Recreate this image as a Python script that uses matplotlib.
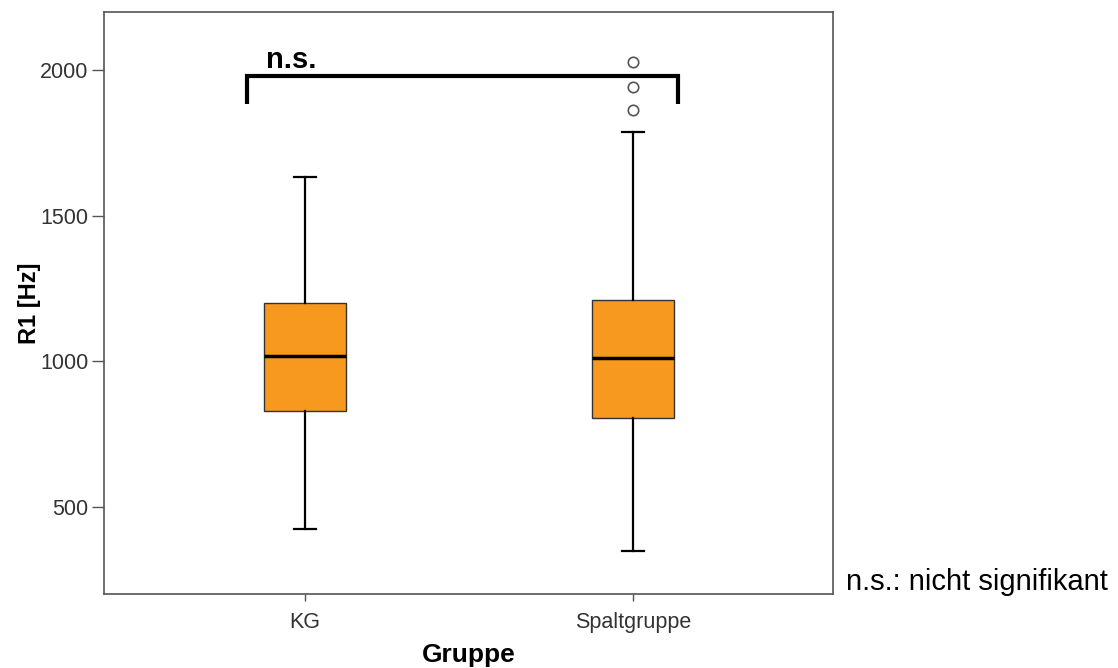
import matplotlib
matplotlib.use("Agg")
import matplotlib.pyplot as plt

plt.rcParams['font.family'] = ['Liberation Sans', 'DejaVu Sans']

# Box statistics (Hz)
groups = ["KG", "Spaltgruppe"]
whisker_low = [425, 350]
q1 = [829, 805]
median = [1017, 1010]
q3 = [1202, 1212]
whisker_high = [1634, 1788]
outliers = [[], [1863, 1942, 2027]]

yticks = [500, 1000, 1500, 2000]
bracket_y = 1979
bracket_drop = 95

ORANGE = "#F7991F"

stats = []
for i, g in enumerate(groups):
    stats.append({
        "label": g,
        "whislo": whisker_low[i],
        "q1": q1[i],
        "med": median[i],
        "q3": q3[i],
        "whishi": whisker_high[i],
        "fliers": outliers[i],
    })

positions = [1, 2]

fig = plt.figure(figsize=(11.18, 6.68), dpi=100)
ax = fig.add_axes([0.093, 0.111, 0.652, 0.871])

ax.bxp(stats, positions=positions, widths=0.25, patch_artist=True,
       boxprops=dict(facecolor=ORANGE, edgecolor="#333333", linewidth=1.0),
       medianprops=dict(color="black", linewidth=2.5),
       whiskerprops=dict(color="black", linewidth=1.6),
       capprops=dict(color="black", linewidth=1.6),
       capwidths=0.065,
       flierprops=dict(marker="o", markersize=7.5, markerfacecolor="white",
                       markeredgecolor="#555555", markeredgewidth=1.2))

ax.set_xlim(0.387, 2.609)
ax.set_ylim(202, 2199)
ax.set_yticks(yticks)
ax.set_yticklabels([str(t) for t in yticks])
ax.set_xticks(positions)
ax.set_xticklabels(groups)

ax.tick_params(axis="y", direction="out", length=9, width=1, colors="#555555",
               labelcolor="#333333", labelsize=15.5, pad=2)
ax.tick_params(axis="x", direction="out", length=5, width=1, colors="#555555",
               labelcolor="#333333", labelsize=15.5, pad=8)
for s in ax.spines.values():
    s.set_color("#555555")
    s.set_linewidth(1.2)

ax.set_xlabel("Gruppe", fontsize=19, fontweight="bold", labelpad=7)
ax.set_ylabel("R1 [Hz]", fontsize=17, fontweight="bold", labelpad=-0.5)

# significance bracket
xl = positions[0] - 0.177
xr = positions[1] + 0.137
ax.plot([xl, xl, xr, xr],
        [bracket_y - bracket_drop, bracket_y, bracket_y, bracket_y - bracket_drop],
        color="black", linewidth=3, solid_capstyle="butt", solid_joinstyle="miter")
ax.text(positions[0] - 0.12, bracket_y + 8, "n.s.", fontsize=21, fontweight="bold",
        ha="left", va="bottom")

fig.text(0.757, 0.128, "n.s.: nicht signifikant", fontsize=21, ha="left", va="center")

fig.savefig("out.png", dpi=100)
